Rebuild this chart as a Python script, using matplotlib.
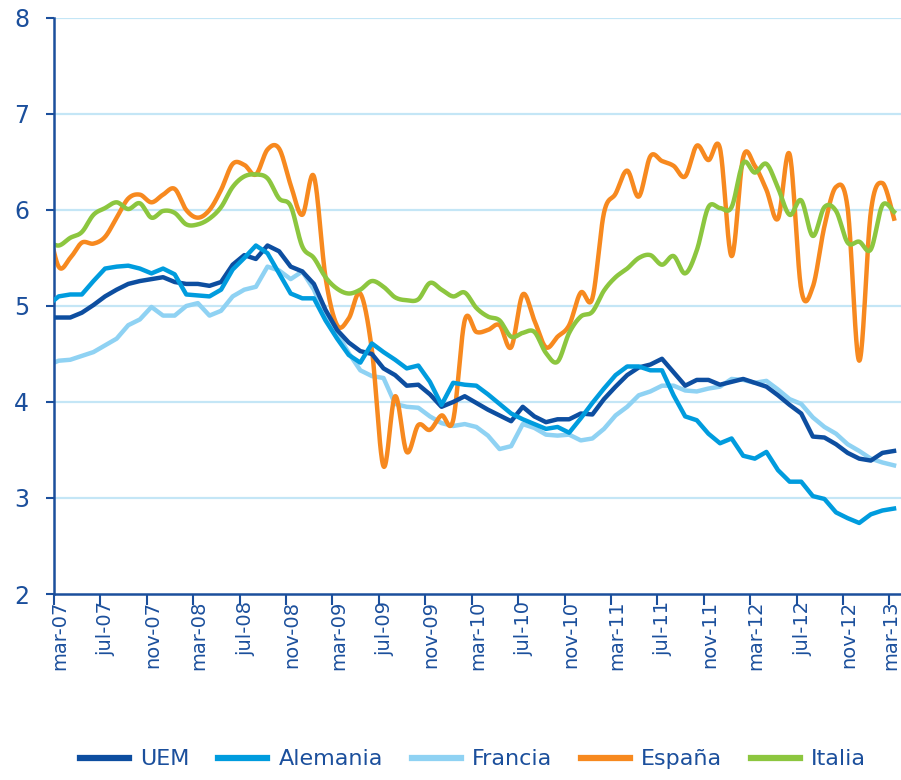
import numpy as np
import matplotlib
matplotlib.use('Agg')
import matplotlib.pyplot as plt

# valores mensuales, feb-07 (solo asoma en el borde) .. mar-13
uem = [4.88, 4.88, 4.88, 4.93, 5.01, 5.10, 5.17, 5.23, 5.26, 5.28, 5.30, 5.25, 5.23,
       5.23, 5.21, 5.25, 5.43, 5.53, 5.49, 5.63, 5.57, 5.41, 5.36, 5.23, 4.96,
       4.75, 4.62, 4.53, 4.50, 4.35, 4.28, 4.17, 4.18, 4.08, 3.95, 4.00, 4.06,
       3.99, 3.92, 3.86, 3.80, 3.95, 3.85, 3.79, 3.82, 3.82, 3.88, 3.87, 4.03,
       4.16, 4.28, 4.36, 4.39, 4.45, 4.31, 4.17, 4.23, 4.23, 4.18, 4.21, 4.24,
       4.20, 4.16, 4.07, 3.97, 3.88, 3.64, 3.63, 3.56, 3.47, 3.41, 3.39, 3.47, 3.49]
alemania = [5.00, 5.10, 5.12, 5.12, 5.26, 5.39, 5.41, 5.42, 5.39, 5.34, 5.39, 5.33, 5.12,
            5.11, 5.10, 5.17, 5.38, 5.50, 5.63, 5.55, 5.34, 5.13, 5.08, 5.08, 4.85,
            4.66, 4.49, 4.41, 4.61, 4.52, 4.44, 4.35, 4.38, 4.21, 3.97, 4.20, 4.18,
            4.17, 4.08, 3.98, 3.88, 3.82, 3.77, 3.72, 3.74, 3.68, 3.83, 3.99, 4.14,
            4.28, 4.37, 4.37, 4.33, 4.33, 4.07, 3.85, 3.81, 3.67, 3.57, 3.62, 3.44,
            3.41, 3.48, 3.29, 3.17, 3.17, 3.02, 2.99, 2.85, 2.79, 2.74, 2.83, 2.87, 2.89]
francia = [4.38, 4.43, 4.44, 4.48, 4.52, 4.59, 4.66, 4.80, 4.86, 4.99, 4.90, 4.90, 5.00,
           5.03, 4.90, 4.95, 5.10, 5.17, 5.20, 5.41, 5.37, 5.28, 5.36, 5.17, 4.89,
           4.72, 4.51, 4.33, 4.27, 4.25, 3.98, 3.95, 3.94, 3.85, 3.78, 3.75, 3.77,
           3.74, 3.65, 3.51, 3.54, 3.77, 3.73, 3.66, 3.65, 3.66, 3.60, 3.62, 3.72,
           3.86, 3.95, 4.07, 4.11, 4.17, 4.17, 4.12, 4.11, 4.14, 4.16, 4.24, 4.23,
           4.20, 4.22, 4.13, 4.03, 3.98, 3.84, 3.74, 3.67, 3.56, 3.49, 3.41, 3.37, 3.34]
espana = [5.90, 5.41, 5.50, 5.66, 5.65, 5.72, 5.92, 6.12, 6.16, 6.08, 6.16, 6.22, 6.00,
          5.92, 6.00, 6.21, 6.48, 6.47, 6.37, 6.63, 6.64, 6.26, 5.95, 6.35, 5.30,
          4.80, 4.87, 5.13, 4.54, 3.33, 4.06, 3.48, 3.76, 3.71, 3.86, 3.81, 4.85,
          4.73, 4.75, 4.80, 4.57, 5.12, 4.85, 4.57, 4.68, 4.80, 5.14, 5.08, 5.97,
          6.17, 6.41, 6.14, 6.56, 6.51, 6.46, 6.35, 6.67, 6.52, 6.64, 5.52, 6.55,
          6.46, 6.21, 5.91, 6.58, 5.17, 5.20, 5.83, 6.24, 6.02, 4.43, 5.98, 6.28, 5.91]
italia = [5.68, 5.63, 5.71, 5.77, 5.95, 6.02, 6.08, 6.01, 6.07, 5.92, 5.99, 5.97, 5.85,
          5.85, 5.91, 6.03, 6.24, 6.35, 6.37, 6.33, 6.12, 6.04, 5.62, 5.50, 5.30,
          5.18, 5.13, 5.17, 5.26, 5.20, 5.09, 5.06, 5.07, 5.24, 5.17, 5.10, 5.14,
          4.98, 4.89, 4.85, 4.68, 4.72, 4.73, 4.51, 4.42, 4.72, 4.89, 4.94, 5.16,
          5.30, 5.39, 5.50, 5.53, 5.43, 5.52, 5.34, 5.58, 6.03, 6.02, 6.03, 6.49,
          6.39, 6.48, 6.23, 5.95, 6.10, 5.73, 6.03, 5.99, 5.66, 5.67, 5.59, 6.05, 5.98]

etiquetas = ['mar-07', 'jul-07', 'nov-07', 'mar-08', 'jul-08', 'nov-08', 'mar-09',
             'jul-09', 'nov-09', 'mar-10', 'jul-10', 'nov-10', 'mar-11', 'jul-11',
             'nov-11', 'mar-12', 'jul-12', 'nov-12', 'mar-13']

azul_txt = '#1B4F9C'


def suave(x, y, n=24):
    # curva suavizada tipo excel (bezier con tangentes catmull-rom)
    x = np.asarray(x, float)
    y = np.asarray(y, float)
    px = np.concatenate([[x[0]], x, [x[-1]]])
    py = np.concatenate([[y[0]], y, [y[-1]]])
    t = np.linspace(0, 1, n)
    xs, ys = [], []
    for i in range(1, len(px) - 2):
        x0, x1, x2, x3 = px[i - 1:i + 3]
        y0, y1, y2, y3 = py[i - 1:i + 3]
        cx1, cy1 = x1 + (x2 - x0) / 6, y1 + (y2 - y0) / 6
        cx2, cy2 = x2 - (x3 - x1) / 6, y2 - (y3 - y1) / 6
        a, b, c, d = (1 - t) ** 3, 3 * (1 - t) ** 2 * t, 3 * (1 - t) * t ** 2, t ** 3
        xs.append(a * x1 + b * cx1 + c * cx2 + d * x2)
        ys.append(a * y1 + b * cy1 + c * cy2 + d * y2)
    return np.concatenate(xs), np.concatenate(ys)


x = np.arange(len(uem)) - 1 + 0.4

fig = plt.figure(figsize=(9.01, 7.80), dpi=100)
ax = fig.add_axes([54 / 901, 1 - 594 / 780, 847 / 901, 576 / 780])

for v in range(3, 9):
    ax.axhline(v, color='#C4E6F6', lw=1.6, zorder=0)

ax.plot(x, uem, color='#0D4EA0', lw=3.2, label='UEM', zorder=3)
ax.plot(x, alemania, color='#009CDE', lw=3.2, label='Alemania', zorder=3)
ax.plot(x, francia, color='#8FD2F3', lw=3.2, label='Francia', zorder=2)
xs, ys = suave(x, espana)
ax.plot(xs, ys, color='#F7891F', lw=3.2, label='España', zorder=2)
xs, ys = suave(x, italia)
ax.plot(xs, ys, color='#8CC63F', lw=3.2, label='Italia', zorder=2)

ax.set_xlim(0, 73)
ax.set_ylim(2, 8)
ax.set_yticks(range(2, 9))
ax.set_yticklabels([str(v) for v in range(2, 9)])
ax.set_xticks(np.arange(0, 73, 4))
ax.set_xticklabels([])
pos_etiq = np.arange(0, 73, 4) + 0.5
pos_etiq[-1] = 72.1
ax.set_xticks(pos_etiq, etiquetas, minor=True)

for s in ['top', 'right']:
    ax.spines[s].set_visible(False)
for s in ['left', 'bottom']:
    ax.spines[s].set_color(azul_txt)
    ax.spines[s].set_linewidth(1.8)

ax.tick_params(axis='y', colors=azul_txt, labelsize=17, length=6, width=1.5, pad=12)
ax.tick_params(axis='x', which='major', colors=azul_txt, length=8, width=1.5)
ax.tick_params(axis='x', which='minor', colors=azul_txt, length=0, labelsize=14,
               labelrotation=90, pad=5)

leg = fig.legend(loc='lower center', bbox_to_anchor=(0.525, -0.012), ncol=5,
                 frameon=False, fontsize=16, handlelength=2.2, handletextpad=0.5,
                 columnspacing=1.3)
for t in leg.get_texts():
    t.set_color(azul_txt)
for l in leg.get_lines():
    l.set_linewidth(4.5)

fig.savefig('out.png', dpi=100)
